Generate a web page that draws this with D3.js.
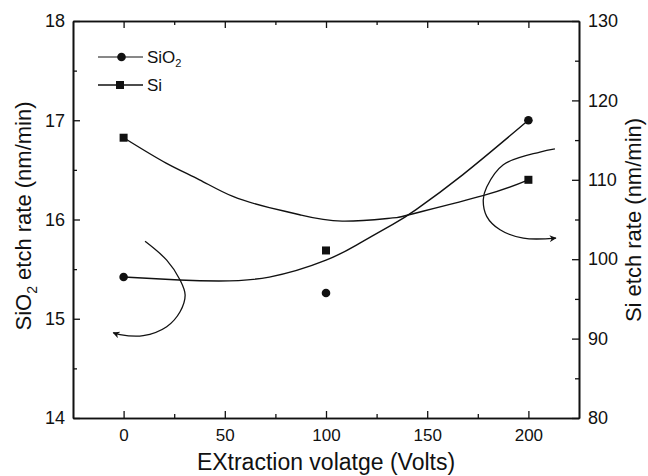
<!DOCTYPE html>
<html>
<head>
<meta charset="utf-8">
<script src="https://cdn.jsdelivr.net/npm/d3@7"></script>
<style>
  body { margin: 0; background: #fff; }
  svg text { font-family: "Liberation Sans", Arial, Helvetica, sans-serif; fill: #111; }
</style>
</head>
<body>
<div id="chart"></div>
<script>
// measured points
var voltage = [0, 100, 200];
var sio2Rate = [15.42, 15.26, 17.0];
var siRate = [115.3, 101.1, 110.0];

// fitted curves
var sio2FitV = [0, 27.5, 47, 72, 100, 116.5, 133, 144.5, 167.5, 200];
var sio2FitR = [15.42, 15.39, 15.38, 15.42, 15.59, 15.76, 15.95, 16.10, 16.45, 17.0];
var siFitV = [0, 21, 37.5, 54, 72, 87, 108, 133, 141, 177.5, 200];
var siFitR = [115.3, 112.1, 110.0, 107.9, 106.5, 105.6, 104.8, 105.2, 105.6, 108.0, 110.0];

// arrows pointing to each axis (left arrow in SiO2 units, right arrow in Si units)
var arrowLeftV = [10.6, 21.3, 27.9, 30.4, 27.9, 21.3, 9.7, -1.8, -5.1];
var arrowLeftR = [15.78, 15.59, 15.39, 15.24, 15.07, 14.92, 14.83, 14.84, 14.86];
var arrowRightV = [213.1, 205.7, 187.6, 179.4, 177.7, 179.4, 186.0, 197.5, 213.6];
var arrowRightR = [113.9, 113.5, 111.9, 109.1, 107.5, 105.4, 103.7, 102.65, 102.65];

var xTicks = [0, 50, 100, 150, 200];
var xMinor = [25, 75, 125, 175];
var yLeftTicks = [14, 15, 16, 17, 18];
var yLeftMinor = [14.5, 15.5, 16.5, 17.5];
var yRightTicks = [80, 90, 100, 110, 120, 130];
var yRightMinor = [85, 95, 105, 115, 125];

var w = 648;
var h = 476;
var margin = {top: 21, right: 69, bottom: 58, left: 73};

var x = d3.scaleLinear().domain([-25, 225]).range([margin.left, w - margin.right]);
var yL = d3.scaleLinear().domain([14, 18]).range([h - margin.bottom, margin.top]);
var yR = d3.scaleLinear().domain([80, 130]).range([h - margin.bottom, margin.top]);

var svg = d3.select("#chart")
  .append("svg")
  .attr("width", w)
  .attr("height", h);

svg.append("defs").append("marker")
  .attr("id", "head")
  .attr("viewBox", "0 0 10 10")
  .attr("refX", 9)
  .attr("refY", 5)
  .attr("markerWidth", 9)
  .attr("markerHeight", 7)
  .attr("markerUnits", "userSpaceOnUse")
  .attr("orient", "auto")
  .append("path")
  .attr("d", "M0,0 L10,5 L0,10 L3,5 Z")
  .attr("fill", "#111");

// axes, ticks inward
function styleAxis(g) {
  g.select(".domain").attr("stroke", "#111").attr("stroke-width", 1.6);
  g.selectAll(".tick line").attr("stroke", "#111").attr("stroke-width", 1.3);
  g.selectAll("text").attr("fill", "#111");
}

var xAxisBottom = svg.append("g")
  .attr("class", "x axis")
  .attr("transform", "translate(0," + (h - margin.bottom) + ")")
  .call(d3.axisBottom(x).tickValues(xTicks).tickSizeInner(-7).tickSizeOuter(0).tickPadding(11))
  .attr("font-size", 17);
styleAxis(xAxisBottom);
svg.append("g")
  .attr("transform", "translate(0," + (h - margin.bottom) + ")")
  .call(d3.axisBottom(x).tickValues(xMinor).tickSizeInner(-4).tickSizeOuter(0).tickFormat(""))
  .call(styleAxis);

var xAxisTop = svg.append("g")
  .attr("transform", "translate(0," + margin.top + ")")
  .call(d3.axisTop(x).tickValues(xTicks).tickSizeInner(-7).tickSizeOuter(0).tickFormat(""));
styleAxis(xAxisTop);
svg.append("g")
  .attr("transform", "translate(0," + margin.top + ")")
  .call(d3.axisTop(x).tickValues(xMinor).tickSizeInner(-4).tickSizeOuter(0).tickFormat(""))
  .call(styleAxis);

var yAxisLeft = svg.append("g")
  .attr("class", "y axis")
  .attr("transform", "translate(" + margin.left + ",0)")
  .call(d3.axisLeft(yL).tickValues(yLeftTicks).tickFormat(d3.format("d"))
    .tickSizeInner(-7).tickSizeOuter(0).tickPadding(8))
  .attr("font-size", 18);
styleAxis(yAxisLeft);
svg.append("g")
  .attr("transform", "translate(" + margin.left + ",0)")
  .call(d3.axisLeft(yL).tickValues(yLeftMinor).tickSizeInner(-4).tickSizeOuter(0).tickFormat(""))
  .call(styleAxis);

var yAxisRight = svg.append("g")
  .attr("class", "y axis")
  .attr("transform", "translate(" + (w - margin.right) + ",0)")
  .call(d3.axisRight(yR).tickValues(yRightTicks).tickFormat(d3.format("d"))
    .tickSizeInner(-7).tickSizeOuter(0).tickPadding(9))
  .attr("font-size", 18);
styleAxis(yAxisRight);
svg.append("g")
  .attr("transform", "translate(" + (w - margin.right) + ",0)")
  .call(d3.axisRight(yR).tickValues(yRightMinor).tickSizeInner(-4).tickSizeOuter(0).tickFormat(""))
  .call(styleAxis);

// fitted curves
var lineL = d3.line()
  .x(function(d, i) { return x(sio2FitV[i]); })
  .y(function(d) { return yL(d); })
  .curve(d3.curveNatural);
var lineR = d3.line()
  .x(function(d, i) { return x(siFitV[i]); })
  .y(function(d) { return yR(d); })
  .curve(d3.curveNatural);

svg.append("path")
  .attr("d", lineL(sio2FitR))
  .attr("fill", "none")
  .attr("stroke", "#111")
  .attr("stroke-width", 1.4);
svg.append("path")
  .attr("d", lineR(siFitR))
  .attr("fill", "none")
  .attr("stroke", "#111")
  .attr("stroke-width", 1.4);

// arrows
var arrowL = d3.line()
  .x(function(d, i) { return x(arrowLeftV[i]); })
  .y(function(d) { return yL(d); })
  .curve(d3.curveCatmullRom);
var arrowR = d3.line()
  .x(function(d, i) { return x(arrowRightV[i]); })
  .y(function(d) { return yR(d); })
  .curve(d3.curveCatmullRom);

svg.append("path")
  .attr("d", arrowL(arrowLeftR))
  .attr("fill", "none")
  .attr("stroke", "#111")
  .attr("stroke-width", 1.3)
  .attr("marker-end", "url(#head)");
svg.append("path")
  .attr("d", arrowR(arrowRightR))
  .attr("fill", "none")
  .attr("stroke", "#111")
  .attr("stroke-width", 1.3)
  .attr("marker-end", "url(#head)");

// points
svg.selectAll("circle.sio2")
  .data(sio2Rate)
  .enter()
  .append("circle")
  .attr("class", "sio2")
  .attr("cx", function(d, i) { return x(voltage[i]); })
  .attr("cy", function(d) { return yL(d); })
  .attr("r", 4.3)
  .attr("fill", "#111");

var sq = 8;
svg.selectAll("rect.si")
  .data(siRate)
  .enter()
  .append("rect")
  .attr("class", "si")
  .attr("x", function(d, i) { return x(voltage[i]) - sq / 2; })
  .attr("y", function(d) { return yR(d) - sq / 2; })
  .attr("width", sq)
  .attr("height", sq)
  .attr("fill", "#111");

// legend
var legend = svg.append("g").attr("font-size", 17);
legend.append("line").attr("x1", 98).attr("x2", 143).attr("y1", 57).attr("y2", 57)
  .attr("stroke", "#111").attr("stroke-width", 1);
legend.append("circle").attr("cx", 121.5).attr("cy", 57).attr("r", 4.3).attr("fill", "#111");
var lt = legend.append("text").attr("x", 147).attr("y", 63);
lt.append("tspan").text("SiO");
lt.append("tspan").attr("font-size", 11).attr("dy", 4).text("2");

legend.append("line").attr("x1", 98).attr("x2", 143).attr("y1", 85).attr("y2", 85)
  .attr("stroke", "#111").attr("stroke-width", 1.3);
legend.append("rect").attr("x", 116).attr("y", 81).attr("width", 8).attr("height", 8).attr("fill", "#111");
legend.append("text").attr("x", 147).attr("y", 91).text("Si");

// axis titles
svg.append("text")
  .attr("text-anchor", "middle")
  .attr("x", (margin.left + w - margin.right) / 2)
  .attr("y", 470)
  .attr("font-size", 23)
  .text("EXtraction volatge (Volts)");

var yt = svg.append("text")
  .attr("text-anchor", "middle")
  .attr("transform", "translate(31," + 216 + ")rotate(-90)")
  .attr("font-size", 22);
yt.append("tspan").text("SiO");
yt.append("tspan").attr("font-size", 14).attr("dy", 6).text("2");
yt.append("tspan").attr("dy", -6).text(" etch rate (nm/min)");

svg.append("text")
  .attr("text-anchor", "middle")
  .attr("transform", "translate(641," + 220 + ")rotate(-90)")
  .attr("font-size", 22)
  .text("Si etch rate (nm/min)");
</script>
</body>
</html>
